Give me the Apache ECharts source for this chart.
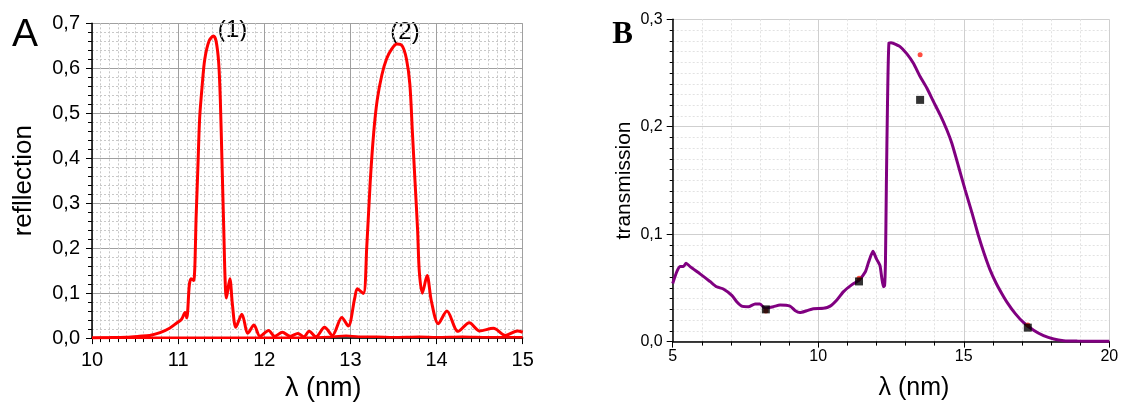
<!DOCTYPE html>
<html>
<head>
<meta charset="utf-8">
<script src="https://cdn.jsdelivr.net/npm/echarts@6/dist/echarts.min.js"></script>
<style>
html,body{margin:0;padding:0;background:#fff;}
#chart{width:1124px;height:407px;}
</style>
</head>
<body>
<div id="chart"></div>
<script>
// ---- Panel A: reflection ----
const reflWavelength = [10.0,10.2,10.4,10.55,10.67,10.79,10.9,10.98,11.04,11.08,11.1,11.13,11.15,11.18,11.21,11.23,11.25,11.28,11.31,11.36,11.41,11.44,11.47,11.49,11.51,11.53,11.545,11.56,11.6,11.63,11.67,11.74,11.81,11.88,11.95,12.05,12.12,12.21,12.3,12.39,12.46,12.52,12.6,12.7,12.79,12.9,12.975,13.05,13.08,13.15,13.19,13.23,13.27,13.31,13.365,13.42,13.48,13.54,13.6,13.65,13.69,13.72,13.75,13.78,13.8,13.835,13.89,13.94,14.02,14.12,14.25,14.38,14.5,14.66,14.8,14.94,15.0];
const reflValues = [0.0005,0.001,0.002,0.004,0.006,0.012,0.022,0.033,0.042,0.057,0.045,0.118,0.132,0.128,0.276,0.384,0.49,0.564,0.621,0.661,0.672,0.661,0.614,0.528,0.384,0.24,0.132,0.089,0.132,0.075,0.024,0.053,0.011,0.029,0.004,0.017,0.004,0.013,0.004,0.01,0.003,0.015,0.003,0.024,0.006,0.046,0.027,0.089,0.11,0.099,0.204,0.348,0.456,0.528,0.585,0.621,0.643,0.654,0.65,0.621,0.564,0.456,0.348,0.24,0.147,0.1,0.139,0.082,0.032,0.06,0.015,0.034,0.016,0.022,0.006,0.016,0.013];
const baseWavelength = [10.0,10.5,11.0,11.5,12.0,12.5,12.8,12.95,13.1,13.3,13.5,13.8,14.0,14.3,14.6,15.0];
const baseValues = [0.001,0.001,0.001,0.001,0.001,0.001,0.003,0.005,0.003,0.003,0.002,0.003,0.002,0.003,0.002,0.002];
const xTickLabelsA = ['10','11','12','13','14','15'];
const yTickLabelsA = ['0,0','0,1','0,2','0,3','0,4','0,5','0,6','0,7'];

// ---- Panel B: transmission ----
const transWavelength = [5.0,5.14,5.25,5.37,5.46,5.59,5.94,6.28,6.51,6.74,7.03,7.2,7.37,7.6,7.83,8.0,8.17,8.46,8.69,9.03,9.2,9.37,9.6,9.83,10.18,10.41,10.64,10.87,11.16,11.39,11.62,11.73,11.88,12.0,12.12,12.18,12.24,12.28,12.31,12.34,12.38,12.43,12.5,12.58,12.81,13.04,13.27,13.5,13.73,13.96,14.19,14.42,14.59,14.82,15.05,15.28,15.5,15.7,15.9,16.1,16.3,16.5,16.77,17.05,17.4,17.74,18.09,18.43,18.9,20.0];
const transValues = [0.054,0.065,0.07,0.07,0.073,0.07,0.063,0.056,0.051,0.049,0.043,0.037,0.033,0.0325,0.035,0.035,0.031,0.0325,0.034,0.033,0.029,0.027,0.0287,0.0306,0.031,0.033,0.0387,0.0465,0.053,0.057,0.065,0.074,0.084,0.077,0.071,0.06,0.051,0.052,0.075,0.144,0.222,0.278,0.2782,0.2777,0.2746,0.268,0.259,0.2467,0.236,0.2234,0.211,0.197,0.1846,0.163,0.141,0.12,0.099,0.082,0.067,0.055,0.045,0.036,0.026,0.0178,0.0105,0.0055,0.0024,0.0009,0.0005,0.0003];
const redWavelength = [8.2,11.4,13.5,17.2];
const redValues = [0.0285,0.059,0.267,0.0155];
const squareWavelength = [8.2,11.4,13.5,17.2];
const squareValues = [0.030,0.056,0.225,0.013];
const xTickLabelsB = ['5','10','15','20'];
const yTickLabelsB = ['0,0','0,1','0,2','0,3'];

const pairs = (xs, ys) => xs.map((x, i) => [x, ys[i]]);
const FONT = 'Liberation Sans, Arial, sans-serif';

const chart = echarts.init(document.getElementById('chart'), null, {renderer: 'canvas'});
chart.setOption({
  backgroundColor: '#fff',
  animation: false,
  grid: [
    {left: 92, top: 23.3, width: 430.7, height: 324.7, containLabel: false},
    {left: 672.7, top: 19.3, width: 436.6, height: 322.3, containLabel: false}
  ],
  xAxis: [
    {
      gridIndex: 0, type: 'value', min: 10, max: 15, interval: 1,
      name: 'λ (nm)', nameLocation: 'middle', nameGap: 27,
      nameTextStyle: {fontFamily: FONT, fontSize: 27, color: '#000', padding: [0, 0, 0, 32]},
      axisLine: {show: true, onZero: false, lineStyle: {color: '#000', width: 1.5}},
      axisTick: {show: true, length: 6, lineStyle: {color: '#000'}},
      minorTick: {show: true, splitNumber: 10, length: 4, lineStyle: {color: '#000'}},
      axisLabel: {margin: 12, fontFamily: FONT, fontSize: 20, color: '#000',
        formatter: v => xTickLabelsA[Math.round(v - 10)]},
      splitLine: {show: true, lineStyle: {color: '#a0a0a0', width: 1}},
      minorSplitLine: {show: true, lineStyle: {color: '#c8c8c8', width: 1, type: [2, 2]}}
    },
    {
      gridIndex: 1, type: 'value', min: 5, max: 20, interval: 5,
      name: 'λ (nm)', nameLocation: 'middle', nameGap: 34,
      nameTextStyle: {fontFamily: FONT, fontSize: 25, color: '#000', padding: [0, 0, 0, 46]},
      axisLine: {show: true, onZero: false, lineStyle: {color: '#000', width: 1.5}},
      axisTick: {show: true, length: 6, lineStyle: {color: '#000'}},
      minorTick: {show: true, splitNumber: 5, length: 4, lineStyle: {color: '#000'}},
      axisLabel: {margin: 7, fontFamily: FONT, fontSize: 16, color: '#000',
        formatter: v => xTickLabelsB[Math.round((v - 5) / 5)]},
      splitLine: {show: true, lineStyle: {color: '#cfcfcf', width: 1}},
      minorSplitLine: {show: true, lineStyle: {color: '#e2e2e2', width: 1, type: [2, 2]}}
    }
  ],
  yAxis: [
    {
      gridIndex: 0, type: 'value', min: 0, max: 0.7, interval: 0.1,
      name: 'refllection', nameLocation: 'middle', nameGap: 55,
      nameTextStyle: {fontFamily: FONT, fontSize: 26, color: '#000'},
      axisLine: {show: true, onZero: false, lineStyle: {color: '#000', width: 1.5}},
      axisTick: {show: true, length: 6, lineStyle: {color: '#000'}},
      minorTick: {show: true, splitNumber: 5, length: 4, lineStyle: {color: '#000'}},
      axisLabel: {margin: 12, fontFamily: FONT, fontSize: 20, color: '#000',
        formatter: v => yTickLabelsA[Math.round(v * 10)]},
      splitLine: {show: true, lineStyle: {color: '#a0a0a0', width: 1}},
      minorSplitLine: {show: true, lineStyle: {color: '#c8c8c8', width: 1, type: [2, 2]}}
    },
    {
      gridIndex: 1, type: 'value', min: 0, max: 0.3, interval: 0.1,
      name: 'transmission', nameLocation: 'middle', nameGap: 38,
      nameTextStyle: {fontFamily: FONT, fontSize: 21, color: '#000'},
      axisLine: {show: true, onZero: false, lineStyle: {color: '#000', width: 1.5}},
      axisTick: {show: true, length: 6, lineStyle: {color: '#000'}},
      minorTick: {show: true, splitNumber: 10, length: 3, lineStyle: {color: '#000'}},
      axisLabel: {margin: 10, fontFamily: FONT, fontSize: 16, color: '#000',
        formatter: v => yTickLabelsB[Math.round(v * 10)]},
      splitLine: {show: true, lineStyle: {color: '#cfcfcf', width: 1}},
      minorSplitLine: {show: true, lineStyle: {color: '#e2e2e2', width: 1, type: [2, 2]}}
    }
  ],
  series: [
    {
      type: 'line', xAxisIndex: 0, yAxisIndex: 0, data: pairs(baseWavelength, baseValues),
      showSymbol: false, smooth: 0.3, lineStyle: {color: '#ff0000', width: 2.5}, silent: true
    },
    {
      type: 'line', xAxisIndex: 0, yAxisIndex: 0, data: pairs(reflWavelength, reflValues),
      showSymbol: false, smooth: 0.3, lineStyle: {color: '#ff0000', width: 3}, silent: true
    },
    {
      type: 'line', xAxisIndex: 1, yAxisIndex: 1, data: pairs(transWavelength, transValues),
      showSymbol: false, smooth: 0.2, lineStyle: {color: '#800080', width: 3}, silent: true
    },
    {
      type: 'scatter', xAxisIndex: 1, yAxisIndex: 1, data: pairs(redWavelength, redValues),
      symbol: 'circle', symbolSize: 5, itemStyle: {color: '#ff2010'}, silent: true, z: 3
    },
    {
      type: 'scatter', xAxisIndex: 1, yAxisIndex: 1, data: pairs(squareWavelength, squareValues),
      symbol: 'rect', symbolSize: 8, itemStyle: {color: '#000'}, silent: true, z: 4
    }
  ],
  graphic: [
    {type: 'text', left: 12, top: 16, style: {text: 'A', fontFamily: FONT, fontSize: 39, fill: '#000'}},
    {type: 'text', x: 232.5, y: 30, style: {text: '(1)', fontFamily: FONT, fontSize: 24, fill: '#000', align: 'center', verticalAlign: 'middle'}},
    {type: 'text', x: 405, y: 32, style: {text: '(2)', fontFamily: FONT, fontSize: 24, fill: '#000', align: 'center', verticalAlign: 'middle'}},
    {type: 'text', x: 622.7, y: 35, style: {text: 'B', fontFamily: 'Liberation Serif, Times New Roman, serif', fontWeight: 'bold', fontSize: 31, fill: '#000', align: 'center', verticalAlign: 'middle'}}
  ]
});
</script>
</body>
</html>
